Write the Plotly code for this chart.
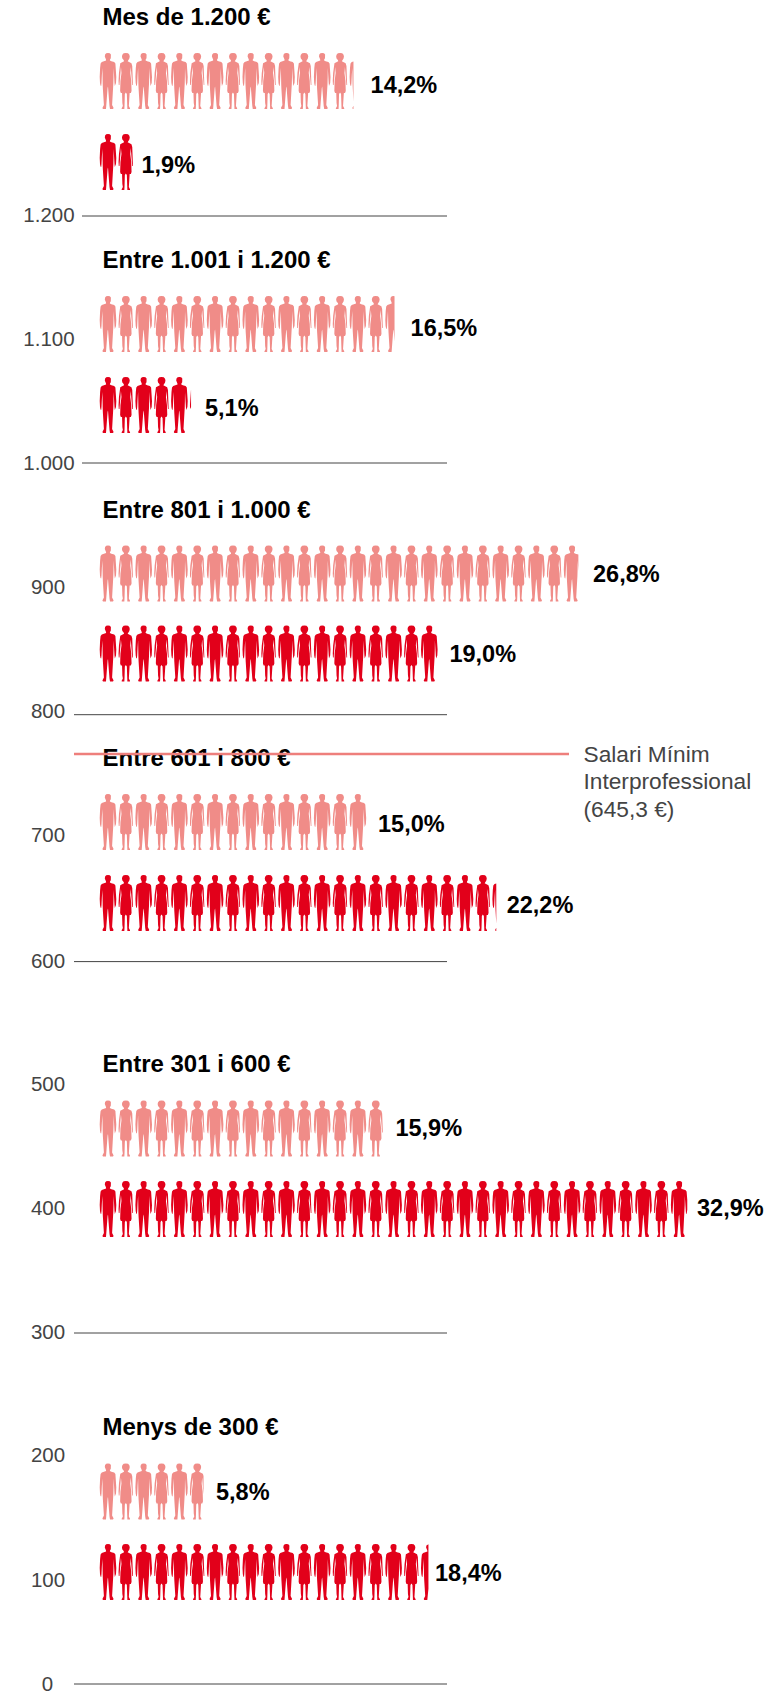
import plotly.graph_objects as go

# ---- data ----
groups = ["Mes de 1.200 €", "Entre 1.001 i 1.200 €", "Entre 801 i 1.000 €",
          "Entre 601 i 800 €", "Entre 301 i 600 €", "Menys de 300 €"]
pale_values = [14.2, 16.5, 26.8, 15.0, 15.9, 5.8]
red_values = [1.9, 5.1, 19.0, 22.2, 32.9, 18.4]
pale_labels = ["14,2%", "16,5%", "26,8%", "15,0%", "15,9%", "5,8%"]
red_labels = ["1,9%", "5,1%", "19,0%", "22,2%", "32,9%", "18,4%"]
tick_labels = ["1.200", "1.100", "1.000", "900", "800", "700", "600",
               "500", "400", "300", "200", "100", "0"]
sm_lines = ["Salari Mínim", "Interprofessional", "(645,3 €)"]

# ---- layout constants (pixels of the 766x1694 page) ----
W, H = 766, 1694
PITCH = 17.85
X0 = 100.0
Y100, YPX = 1579.5, 1.239
def xv(px): return (px - X0) / PITCH
def yv(py): return 100 + (Y100 - py) / YPX

tick_py = [217, 341, 465, 589, 713, 837, 962.5, 1086, 1210, 1334, 1457, 1581.5, 1685.5]
tick_cx = [49, 49, 49, 48, 48, 48, 48, 48, 48, 48, 48, 48, 47.5]
line_py = [216, 463, 714.7, 961.6, 1333, 1684]
line_x0 = [82, 82, 74, 74, 74, 74]
LINE_X1 = 447
title_py = [19, 262, 512, 760, 1066, 1429]
pale_top = [53, 296, 545.5, 794, 1100.5, 1463.5]
red_top = [134, 377, 625.5, 875, 1181, 1544]
pale_lab_px = [(370.6, 87.5), (410.6, 330.5), (593, 576), (378, 826.5), (395.4, 1130), (216, 1494)]
red_lab_px = [(141.5, 167.5), (205, 410.5), (449.4, 656), (506.7, 907.5), (697, 1210.5), (435, 1575.5)]

PALE, RED, GRID = "#f08c88", "#e2001a", "#444444"

# ---- silhouettes: half outlines (px from centre, px from top) ----
MAN = [(0, 0), (1.8, .3), (2.9, 1.6), (3.2, 3.4), (2.8, 5.2), (2, 6.4), (1.9, 7.4), (3.4, 8.2), (6.2, 9),
       (7.4, 10.5), (7.9, 15), (8.3, 24), (8, 30), (7.5, 32.5), (6.8, 33), (6.5, 30), (6.1, 22), (5.6, 15),
       (5.5, 24), (5.3, 31), (5.1, 36), (4.5, 48), (4.1, 52), (5.6, 55), (5, 56), (2, 56), (1.5, 53), (.8, 44),
       (.4, 35), (0, 33.5)]
WOMAN = [(0, 0), (2.2, .3), (3.5, 1.8), (3.9, 3.6), (3.5, 5.6), (2.2, 7), (1.8, 8.2), (3.7, 9.2), (5.6, 10.2),
         (6.4, 13), (6.9, 20), (7.3, 28), (7.1, 32), (6.4, 32), (6, 28), (5.4, 20), (4.9, 14), (4.4, 20),
         (5.4, 28), (5.7, 38), (5, 40), (3.8, 40), (3.5, 50), (3, 53), (4.3, 55.5), (4, 56), (1.5, 56),
         (1.3, 52), (1, 41), (0, 39.5)]

def outline(half):
    return half + [(-x, y) for x, y in reversed(half[1:-1])]

def clip(poly, xmax):
    out = []
    for i, (x1, y1) in enumerate(poly):
        x2, y2 = poly[(i + 1) % len(poly)]
        if x1 <= xmax:
            out.append((x1, y1))
        if (x1 <= xmax) != (x2 <= xmax):
            t = (xmax - x1) / (x2 - x1)
            out.append((xmax, y1 + t * (y2 - y1)))
    return out

def people(value, top_px):
    xs, ys = [], []
    n = 0
    while n < value:
        half = MAN if n % 2 == 0 else WOMAN
        cx = n + 8 / PITCH
        poly = [(cx + x / PITCH, yv(top_px + y)) for x, y in outline(half)]
        poly = clip(poly, value)
        if poly:
            xs += [p[0] for p in poly] + [poly[0][0], None]
            ys += [p[1] for p in poly] + [poly[0][1], None]
        n += 1
    return xs, ys

fig = go.Figure()
for i in range(len(groups)):
    for val, top, col in ((pale_values[i], pale_top[i], PALE), (red_values[i], red_top[i], RED)):
        xs, ys = people(val, top)
        fig.add_trace(go.Scatter(x=xs, y=ys, mode="lines", fill="toself", fillcolor=col,
                                 line=dict(width=0, color=col), hoverinfo="skip"))
    fig.add_trace(go.Scatter(x=[xv(line_x0[i]), xv(LINE_X1)], y=[yv(line_py[i])] * 2, mode="lines",
                             line=dict(color=GRID, width=1), hoverinfo="skip"))

BOLD = "Liberation Sans"
fig.add_trace(go.Scatter(x=[xv(102.5)] * 6, y=[yv(p) for p in title_py], mode="text", text=groups,
                         textposition="middle right", hoverinfo="skip",
                         textfont=dict(family=BOLD, size=24, color="#000000", weight="bold")))
for labs, pos in ((pale_labels, pale_lab_px), (red_labels, red_lab_px)):
    fig.add_trace(go.Scatter(x=[xv(p[0]) for p in pos], y=[yv(p[1]) for p in pos], mode="text", text=labs,
                             textposition="middle right", hoverinfo="skip",
                             textfont=dict(family=BOLD, size=23.5, color="#000000", weight="bold")))
fig.add_trace(go.Scatter(x=[xv(c) for c in tick_cx], y=[yv(p) for p in tick_py], mode="text", text=tick_labels,
                         textposition="middle center", hoverinfo="skip",
                         textfont=dict(family="Liberation Sans", size=20.5, color="#444444")))
fig.add_trace(go.Scatter(x=[xv(74), xv(569)], y=[yv(754)] * 2, mode="lines",
                         line=dict(color="#ee7f7c", width=2.4), hoverinfo="skip"))
fig.add_trace(go.Scatter(x=[xv(583.5)] * 3, y=[yv(756), yv(783.5), yv(811)], mode="text", text=sm_lines,
                         textposition="middle right", hoverinfo="skip",
                         textfont=dict(family="Liberation Sans", size=22.7, color="#444444")))

fig.update_layout(width=W, height=H, margin=dict(l=0, r=0, t=0, b=0), showlegend=False,
                  paper_bgcolor="white", plot_bgcolor="white",
                  xaxis=dict(range=[xv(0), xv(W)], visible=False, fixedrange=True),
                  yaxis=dict(range=[yv(H), yv(0)], visible=False, fixedrange=True))
fig.write_html("out.html", config={"displayModeBar": False},
               post_script="document.body.style.margin='0';document.documentElement.style.overflow='hidden';")
